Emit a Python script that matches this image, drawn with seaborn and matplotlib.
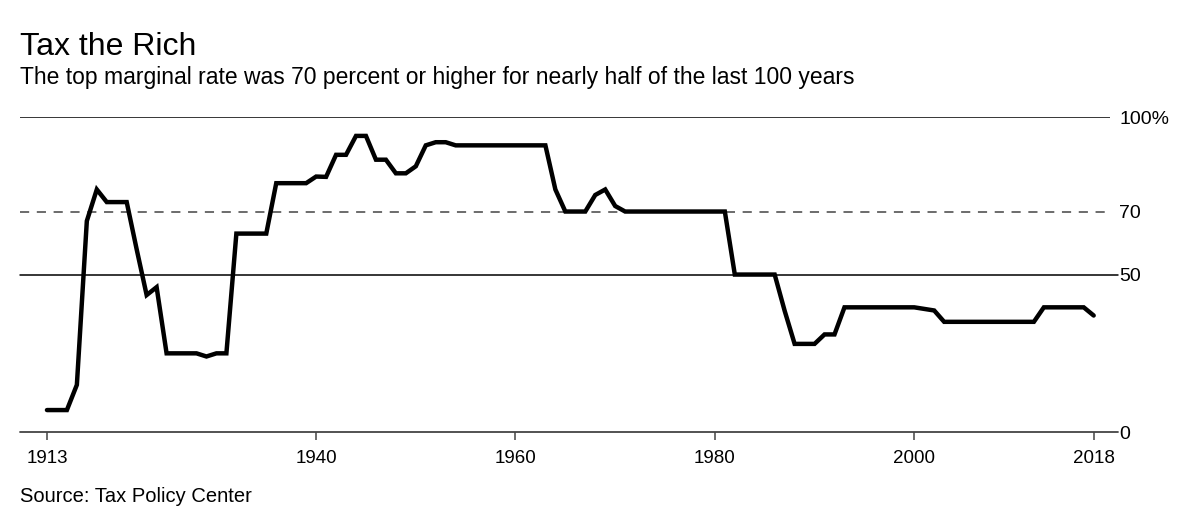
import numpy as np
import pandas as pd
import matplotlib.pyplot as plt
import seaborn as sns

# top marginal income tax rate, 1913-2018
years = list(range(1913, 2019))
rates = [7, 7, 7, 15, 67, 77, 73, 73, 73, 58,
         43.5, 46, 25, 25, 25, 25, 24, 25, 25, 63,
         63, 63, 63, 79, 79, 79, 79, 81.1, 81, 88,
         88, 94, 94, 86.45, 86.45, 82.13, 82.13, 84.36, 91, 92,
         92, 91, 91, 91, 91, 91, 91, 91, 91, 91,
         91, 77, 70, 70, 70, 75.25, 77, 71.75, 70, 70,
         70, 70, 70, 70, 70, 70, 70, 70, 70, 50,
         50, 50, 50, 50, 38.5, 28, 28, 28, 31, 31,
         39.6, 39.6, 39.6, 39.6, 39.6, 39.6, 39.6, 39.6, 39.1, 38.6,
         35, 35, 35, 35, 35, 35, 35, 35, 35, 35,
         39.6, 39.6, 39.6, 39.6, 39.6, 37]
tick_years = [1913, 1940, 1960, 1980, 2000, 2018]
y_ticks = [0, 50, 70, 100]
y_labels = ["0", "50", "70", "100%"]

df = pd.DataFrame({"year": years, "rate": rates})

sns.set_style("white")
plt.rcParams['font.family'] = ['Liberation Sans', 'DejaVu Sans']
plt.rcParams['text.color'] = 'black'
plt.rcParams['xtick.color'] = 'black'
plt.rcParams['ytick.color'] = 'black'

fig = plt.figure(figsize=(12, 5.2), dpi=100)
ax = fig.add_axes([0.0167, 0.169, 0.908, 0.606])

# reference lines
ax.axhline(100, color="black", lw=1.1, zorder=1)
ax.axhline(70, color="#444444", lw=1.1, ls=(0, (6, 5)), zorder=1)
ax.axhline(50, color="black", lw=1.1, xmax=1.008, clip_on=False, zorder=1)
ax.axhline(0, color="#444444", lw=1.3, xmax=1.008, clip_on=False, zorder=1)

sns.lineplot(data=df, x="year", y="rate", color="black", lw=3.2,
             solid_joinstyle="miter", ax=ax, zorder=3)

ax.set_xlim(1910.3, 2019.6)
ax.set_ylim(0, 100)
for s in ax.spines.values():
    s.set_visible(False)

ax.set_xticks(tick_years)
ax.set_xticklabels([str(y) for y in tick_years], fontsize=13.5)
ax.tick_params(axis="x", direction="out", length=6, width=1.1, color="#444444",
               pad=7, bottom=True)

ax.yaxis.tick_right()
ax.set_yticks(y_ticks)
ax.set_yticklabels(y_labels, fontsize=14)
ax.tick_params(axis="y", length=0, pad=7, right=False)
ax.set_xlabel("")
ax.set_ylabel("")

fig.text(0.0167, 0.895, "Tax the Rich", fontsize=23, ha="left", va="baseline")
fig.text(0.0167, 0.838, "The top marginal rate was 70 percent or higher for nearly half of the last 100 years",
         fontsize=16.5, ha="left", va="baseline")
fig.text(0.0167, 0.035, "Source: Tax Policy Center", fontsize=14.5, ha="left", va="baseline")

plt.savefig("out.png", dpi=100)
